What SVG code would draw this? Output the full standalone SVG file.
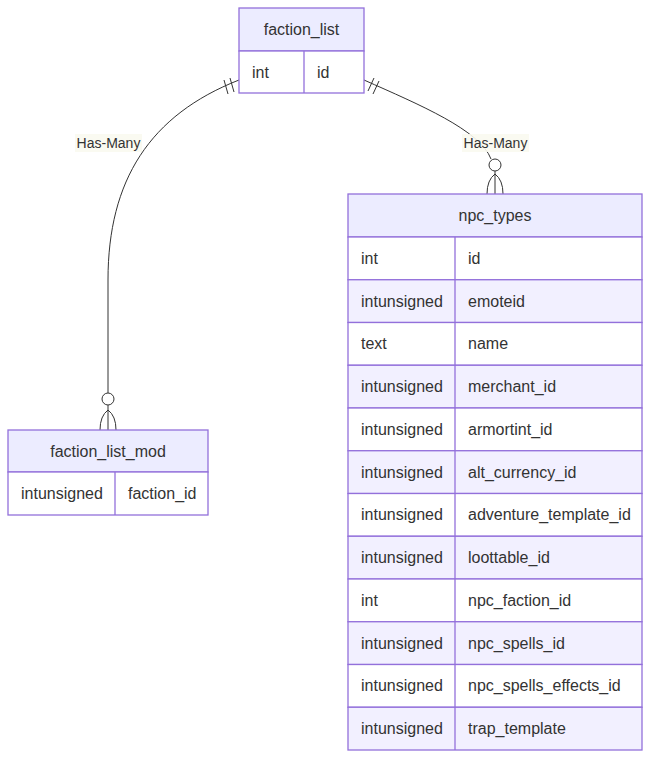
<svg xmlns="http://www.w3.org/2000/svg" width="651" height="758" viewBox="0 0 651 758">
<style>
.hdr{fill:#ECECFF;stroke:#9370DB;stroke-width:1.3}
.odd{fill:#ffffff;stroke:#9370DB;stroke-width:1.3}
.even{fill:#F2F0FF;stroke:#9370DB;stroke-width:1.3}
.div{stroke:#9370DB;stroke-width:1.3}
text{font-family:"Liberation Sans",Arial,sans-serif;fill:#333}
.t{font-size:16px;dominant-baseline:central}
.h{text-anchor:middle}
.lbl{font-size:14px;text-anchor:middle;dominant-baseline:central}
.lblbg{fill:#fafaf0;opacity:0.9}
.edge{fill:none;stroke:#333;stroke-width:1}
.mk{fill:none;stroke:#333;stroke-width:1}
</style>
<g id="connectors">
  <path class="edge" d="M239,80 C150,115 108,180 108,280 L108,393"/>
  <line class="mk" x1="224" y1="80" x2="228" y2="94"/>
  <line class="mk" x1="230" y1="78" x2="234" y2="92"/>
  <circle class="mk" cx="108" cy="399" r="6" fill="#fff"/>
  <line class="mk" x1="108" y1="405" x2="108" y2="430"/>
  <path class="mk" d="M100,430 Q100,416 108,410 Q116,416 116,430"/>
  <path class="edge" d="M364,80 C420,105 480,130 491,159"/>
  <line class="mk" x1="368" y1="91" x2="374" y2="78"/>
  <line class="mk" x1="373" y1="94" x2="379" y2="81"/>
  <circle class="mk" cx="495" cy="165" r="6" fill="#fff"/>
  <line class="mk" x1="495" y1="171" x2="495" y2="194"/>
  <path class="mk" d="M487,194 Q487,180 495,174 Q503,180 503,194"/>
  <rect class="lblbg" x="75" y="134" width="67" height="18"/>
  <text class="lbl" x="108.5" y="143">Has-Many</text>
  <rect class="lblbg" x="462" y="134" width="67" height="18"/>
  <text class="lbl" x="495.5" y="143">Has-Many</text>
</g>
<g id="faction_list">
  <rect class="hdr" x="239" y="8" width="125" height="43"/>
  <text class="t h" x="301.5" y="29.5">faction_list</text>
  <rect class="odd" x="239" y="51" width="125" height="42"/>
  <line class="div" x1="304" y1="51" x2="304" y2="93"/>
  <text class="t" x="252" y="72">int</text>
  <text class="t" x="317" y="72">id</text>
</g>
<g id="faction_list_mod">
  <rect class="hdr" x="8" y="430" width="200" height="42"/>
  <text class="t h" x="108" y="451">faction_list_mod</text>
  <rect class="odd" x="8" y="472" width="200" height="43"/>
  <line class="div" x1="115" y1="472" x2="115" y2="515"/>
  <text class="t" x="21" y="493.5">intunsigned</text>
  <text class="t" x="128" y="493.5">faction_id</text>
</g>
<g id="npc_types">
  <rect class="hdr" x="348" y="194" width="294" height="43"/>
  <text class="t h" x="495" y="215.5">npc_types</text>
  <rect class="odd" x="348" y="237" width="294" height="42.75"/>
  <text class="t" x="361" y="258.4">int</text><text class="t" x="468" y="258.4">id</text>
  <rect class="even" x="348" y="279.75" width="294" height="42.75"/>
  <text class="t" x="361" y="301.1">intunsigned</text><text class="t" x="468" y="301.1">emoteid</text>
  <rect class="odd" x="348" y="322.5" width="294" height="42.75"/>
  <text class="t" x="361" y="343.9">text</text><text class="t" x="468" y="343.9">name</text>
  <rect class="even" x="348" y="365.25" width="294" height="42.75"/>
  <text class="t" x="361" y="386.6">intunsigned</text><text class="t" x="468" y="386.6">merchant_id</text>
  <rect class="odd" x="348" y="408" width="294" height="42.75"/>
  <text class="t" x="361" y="429.4">intunsigned</text><text class="t" x="468" y="429.4">armortint_id</text>
  <rect class="even" x="348" y="450.75" width="294" height="42.75"/>
  <text class="t" x="361" y="472.1">intunsigned</text><text class="t" x="468" y="472.1">alt_currency_id</text>
  <rect class="odd" x="348" y="493.5" width="294" height="42.75"/>
  <text class="t" x="361" y="514.9">intunsigned</text><text class="t" x="468" y="514.9">adventure_template_id</text>
  <rect class="even" x="348" y="536.25" width="294" height="42.75"/>
  <text class="t" x="361" y="557.6">intunsigned</text><text class="t" x="468" y="557.6">loottable_id</text>
  <rect class="odd" x="348" y="579" width="294" height="42.75"/>
  <text class="t" x="361" y="600.4">int</text><text class="t" x="468" y="600.4">npc_faction_id</text>
  <rect class="even" x="348" y="621.75" width="294" height="42.75"/>
  <text class="t" x="361" y="643.1">intunsigned</text><text class="t" x="468" y="643.1">npc_spells_id</text>
  <rect class="odd" x="348" y="664.5" width="294" height="42.75"/>
  <text class="t" x="361" y="685.9">intunsigned</text><text class="t" x="468" y="685.9">npc_spells_effects_id</text>
  <rect class="even" x="348" y="707.25" width="294" height="42.75"/>
  <text class="t" x="361" y="728.6">intunsigned</text><text class="t" x="468" y="728.6">trap_template</text>
  <line class="div" x1="455" y1="237" x2="455" y2="750"/>
</g>
</svg>
